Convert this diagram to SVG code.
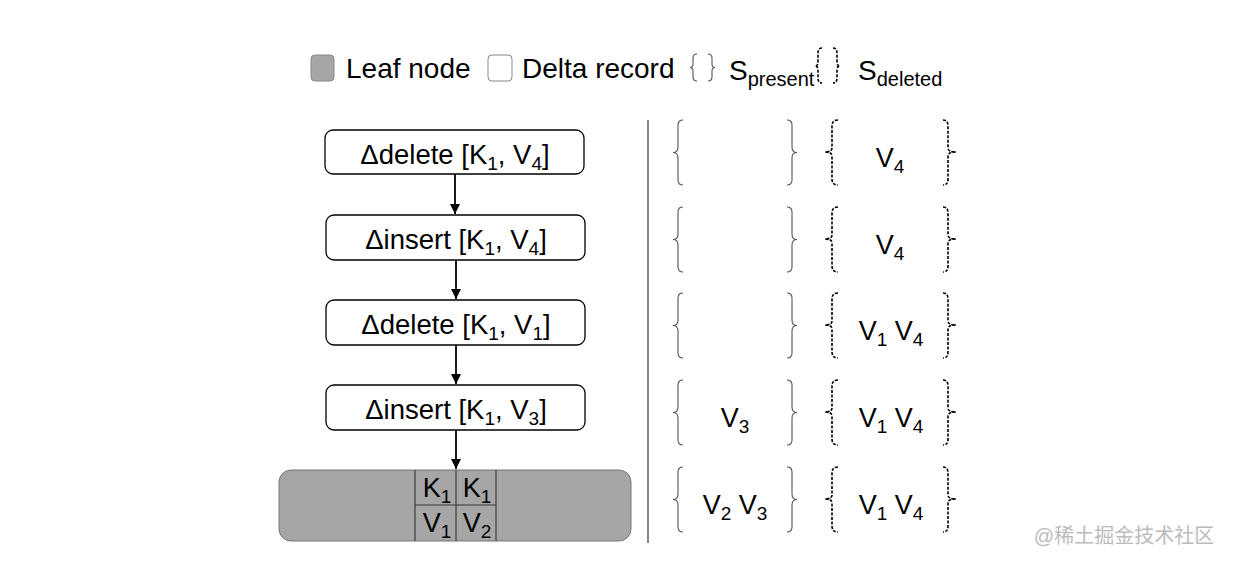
<svg xmlns="http://www.w3.org/2000/svg" width="1236" height="564" viewBox="0 0 1236 564">
<style>
text{font-family:"Liberation Sans",Arial,sans-serif;fill:#000}
.lbl{font-size:27.5px;text-anchor:middle}
.val{font-size:27px;text-anchor:middle}
.sub{font-size:19px}
.delta{fill:#fff;stroke:#000;stroke-width:1.3}
.brace{fill:none;stroke:#555;stroke-width:1.1}
.dbrace{fill:none;stroke:#000;stroke-width:1.6;stroke-dasharray:3 1.5}
.conn{stroke:#000;stroke-width:1.8;fill:none}
</style>
<defs>
<marker id="ah2" markerWidth="10" markerHeight="12" refX="10" refY="5" orient="auto" markerUnits="userSpaceOnUse" viewBox="0 0 10 10">
<path d="M0,0 L10,5 L0,10 Z" fill="#000"/>
</marker>
<path id="lb" d="M10,0 Q5,0 5,5 L5,27 Q5,32.5 0,32.5 Q5,32.5 5,38 L5,60 Q5,65 10,65"/>
<path id="rb" d="M0,0 Q5,0 5,5 L5,27 Q5,32.5 10,32.5 Q5,32.5 5,38 L5,60 Q5,65 0,65"/>
<path id="dlb" d="M13,0 Q7,0 7,6 L7,28 Q7,32 0,32 Q7,32 7,36 L7,59 Q7,65 13,65"/>
<path id="drb" d="M0,0 Q5,0 5,6 L5,28 Q5,32 13,32 Q5,32 5,36 L5,59 Q5,65 0,65"/>
</defs>

<g id="legend">
<rect x="311" y="55" width="23" height="26" rx="4" fill="#a6a6a6" stroke="#888" stroke-width="1"/>
<text x="346" y="78" font-size="28">Leaf node</text>
<rect x="488" y="55" width="24" height="26" rx="4" fill="#fff" stroke="#888" stroke-width="1"/>
<text x="522" y="78" font-size="28">Delta record</text>
<path class="brace" d="M697,54 Q693,54 693,58 L693,64 Q693,67.5 690,67.5 Q693,67.5 693,71 L693,77 Q693,81 697,81"/>
<path class="brace" d="M708,54 Q712,54 712,58 L712,64 Q712,67.5 715,67.5 Q712,67.5 712,71 L712,77 Q712,81 708,81"/>
<text x="729" y="80" font-size="28">S<tspan font-size="20" dy="6">present</tspan></text>
<path class="dbrace" d="M822,48 Q818,48 818,53 L818,62 Q818,66 815,66 Q818,66 818,70 L818,78 Q818,83 822,83"/>
<path class="dbrace" d="M833,48 Q837,48 837,53 L837,62 Q837,66 840,66 Q837,66 837,70 L837,78 Q837,83 833,83"/>
<text x="858" y="80" font-size="28">S<tspan font-size="20" dy="6">deleted</tspan></text>
</g>

<g id="connectors">
<line class="conn" x1="455" y1="174" x2="455" y2="214" marker-end="url(#ah2)"/>
<line class="conn" x1="456" y1="260" x2="456" y2="299" marker-end="url(#ah2)"/>
<line class="conn" x1="456" y1="345" x2="456" y2="384" marker-end="url(#ah2)"/>
<line class="conn" x1="456" y1="430" x2="456" y2="469" marker-end="url(#ah2)"/>
</g>

<g id="d1">
<rect class="delta" x="325" y="130" width="259" height="44" rx="8"/>
<text class="lbl" x="455" y="164">Δdelete [K<tspan class="sub" dy="6">1</tspan><tspan dy="-6">, V</tspan><tspan class="sub" dy="6">4</tspan><tspan dy="-6">]</tspan></text>
</g>
<g id="d2">
<rect class="delta" x="326" y="215" width="259" height="45" rx="8"/>
<text class="lbl" x="456" y="249">Δinsert [K<tspan class="sub" dy="6">1</tspan><tspan dy="-6">, V</tspan><tspan class="sub" dy="6">4</tspan><tspan dy="-6">]</tspan></text>
</g>
<g id="d3">
<rect class="delta" x="326" y="300" width="259" height="45" rx="8"/>
<text class="lbl" x="456" y="334">Δdelete [K<tspan class="sub" dy="6">1</tspan><tspan dy="-6">, V</tspan><tspan class="sub" dy="6">1</tspan><tspan dy="-6">]</tspan></text>
</g>
<g id="d4">
<rect class="delta" x="326" y="385" width="259" height="45" rx="8"/>
<text class="lbl" x="456" y="419">Δinsert [K<tspan class="sub" dy="6">1</tspan><tspan dy="-6">, V</tspan><tspan class="sub" dy="6">3</tspan><tspan dy="-6">]</tspan></text>
</g>

<g id="leaf">
<rect x="279" y="470" width="352" height="71" rx="12" fill="#a6a6a6" stroke="#777" stroke-width="1"/>
<g stroke="#333" stroke-width="1.1">
<line x1="415" y1="470" x2="415" y2="541"/>
<line x1="456" y1="470" x2="456" y2="541"/>
<line x1="496" y1="470" x2="496" y2="541"/>
<line x1="415" y1="505" x2="496" y2="505"/>
</g>
<text class="val" x="437" y="497">K<tspan class="sub" dy="6">1</tspan></text>
<text class="val" x="477" y="497">K<tspan class="sub" dy="6">1</tspan></text>
<text class="val" x="437" y="532">V<tspan class="sub" dy="6">1</tspan></text>
<text class="val" x="477" y="532">V<tspan class="sub" dy="6">2</tspan></text>
</g>

<line x1="648" y1="120" x2="648" y2="543" stroke="#333" stroke-width="1.2"/>

<g id="sets">
<g id="row1" transform="translate(0,120)">
<use href="#lb" class="brace" x="673"/><use href="#rb" class="brace" x="787"/>
<use href="#dlb" class="dbrace" x="825"/><use href="#drb" class="dbrace" x="943"/>
<text class="val" x="890" y="47">V<tspan class="sub" dy="6">4</tspan></text>
</g>
<g id="row2" transform="translate(0,207)">
<use href="#lb" class="brace" x="673"/><use href="#rb" class="brace" x="787"/>
<use href="#dlb" class="dbrace" x="825"/><use href="#drb" class="dbrace" x="943"/>
<text class="val" x="890" y="47">V<tspan class="sub" dy="6">4</tspan></text>
</g>
<g id="row3" transform="translate(0,293)">
<use href="#lb" class="brace" x="673"/><use href="#rb" class="brace" x="787"/>
<use href="#dlb" class="dbrace" x="825"/><use href="#drb" class="dbrace" x="943"/>
<text class="val" x="891" y="47">V<tspan class="sub" dy="6">1</tspan><tspan dy="-6"> V</tspan><tspan class="sub" dy="6">4</tspan></text>
</g>
<g id="row4" transform="translate(0,380)">
<use href="#lb" class="brace" x="673"/><use href="#rb" class="brace" x="787"/>
<use href="#dlb" class="dbrace" x="825"/><use href="#drb" class="dbrace" x="943"/>
<text class="val" x="735" y="47">V<tspan class="sub" dy="6">3</tspan></text>
<text class="val" x="891" y="47">V<tspan class="sub" dy="6">1</tspan><tspan dy="-6"> V</tspan><tspan class="sub" dy="6">4</tspan></text>
</g>
<g id="row5" transform="translate(0,467)">
<use href="#lb" class="brace" x="673"/><use href="#rb" class="brace" x="787"/>
<use href="#dlb" class="dbrace" x="825"/><use href="#drb" class="dbrace" x="943"/>
<text class="val" x="735" y="47">V<tspan class="sub" dy="6">2</tspan><tspan dy="-6"> V</tspan><tspan class="sub" dy="6">3</tspan></text>
<text class="val" x="891" y="47">V<tspan class="sub" dy="6">1</tspan><tspan dy="-6"> V</tspan><tspan class="sub" dy="6">4</tspan></text>
</g>
</g>

<text x="1124" y="543" font-size="20" text-anchor="middle" style="fill:#bbb;font-family:'Liberation Sans','Noto Sans CJK SC',sans-serif">@稀土掘金技术社区</text>
</svg>
